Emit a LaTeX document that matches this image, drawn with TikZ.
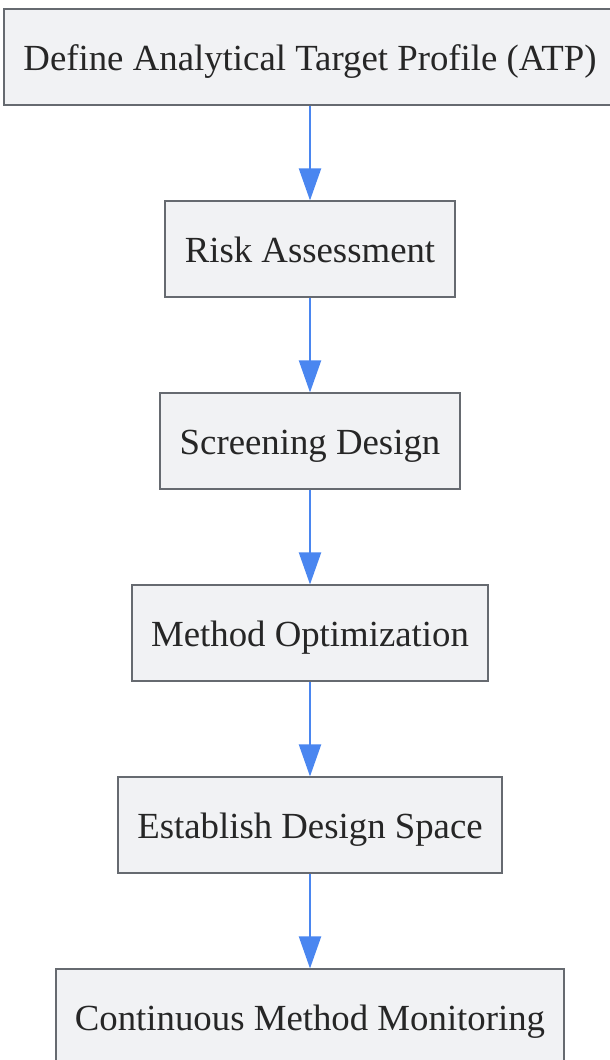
\documentclass[tikz,border=0pt]{standalone}
\usepackage{fontspec}
\setmainfont{Liberation Serif}
\usetikzlibrary{arrows.meta,positioning}
\definecolor{boxline}{HTML}{666A70}
\definecolor{boxfill}{HTML}{F1F2F4}
\definecolor{flowblue}{HTML}{4A86F0}

\begin{document}
\begin{tikzpicture}[
  stage/.style={draw=boxline, fill=boxfill, line width=1.5pt, minimum height=72pt,
                inner xsep=14.5pt, text height=18.8pt, text depth=0pt,
                font=\fontsize{27.6}{32}\selectfont, text=black!85},
  flow/.style={draw=flowblue, line width=1.5pt, -{Triangle[length=24pt,width=16.5pt]}},
  node distance=70.5pt
]
  \useasboundingbox (0,0) rectangle (457.5pt,-795pt);
  \node[stage] (atp) at (232.5pt,-43.1pt) {Define Analytical Target Profile (ATP)};
  \node[stage, below=of atp] (risk) {Risk Assessment};
  \node[stage, below=of risk] (screen) {Screening Design};
  \node[stage, below=of screen] (optim) {Method Optimization};
  \node[stage, below=of optim] (space) {Establish Design Space};
  \node[stage, below=of space] (monitor) {Continuous Method Monitoring};
  \draw[flow] (atp) -- (risk);
  \draw[flow] (risk) -- (screen);
  \draw[flow] (screen) -- (optim);
  \draw[flow] (optim) -- (space);
  \draw[flow] (space) -- (monitor);
\end{tikzpicture}
\end{document}
